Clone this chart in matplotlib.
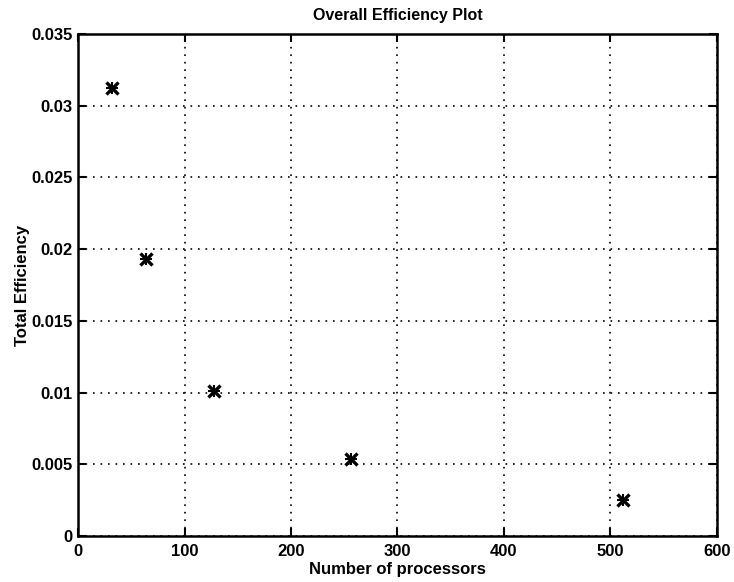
import numpy as np
import matplotlib
matplotlib.use("Agg")
import matplotlib.pyplot as plt

# processor counts and measured overall efficiency
processors = [32, 64, 128, 256, 512]
efficiency = [0.0312, 0.0193, 0.0101, 0.00535, 0.0025]

x_ticks = [0, 100, 200, 300, 400, 500, 600]
y_ticks = [0, 0.005, 0.01, 0.015, 0.02, 0.025, 0.03, 0.035]
y_tick_labels = ["0", "0.005", "0.01", "0.015", "0.02", "0.025", "0.03", "0.035"]

plt.rcParams["font.family"] = ["Liberation Sans", "DejaVu Sans"]

fig = plt.figure(figsize=(7.34, 5.82), dpi=100)
ax = fig.add_axes([0.1063, 0.079, 0.8705, 0.8626])

# matlab-style '*' marker: an x with a + laid over it
ax.plot(processors, efficiency, linestyle="none", marker="x",
        markersize=8, markeredgewidth=2.4, color="black")
ax.plot(processors, efficiency, linestyle="none", marker="+",
        markersize=8, markeredgewidth=1.5, color="black")

ax.set_xlim(0, 600)
ax.set_ylim(0, 0.035)
ax.set_xticks(x_ticks)
ax.set_xticklabels([str(t) for t in x_ticks])
ax.set_yticks(y_ticks)
ax.set_yticklabels(y_tick_labels)

ax.grid(True, linestyle=(0, (1, 3.5)), color="black", linewidth=1.2)
ax.tick_params(direction="in", length=6, width=1.5, top=True, right=True,
               labelsize=12, colors="black")
ax.tick_params(axis="x", pad=6)
ax.tick_params(axis="y", pad=4)
for lbl in ax.get_xticklabels() + ax.get_yticklabels():
    lbl.set_fontweight("bold")
for sp in ax.spines.values():
    sp.set_linewidth(1.8)

ax.set_title("Overall Efficiency Plot", fontsize=11.5, fontweight="bold", pad=10)
ax.set_xlabel("Number of processors", fontsize=12, fontweight="bold", labelpad=2)
ax.set_ylabel("Total Efficiency", fontsize=12, fontweight="bold", labelpad=1)

fig.savefig("out.png", dpi=100)
